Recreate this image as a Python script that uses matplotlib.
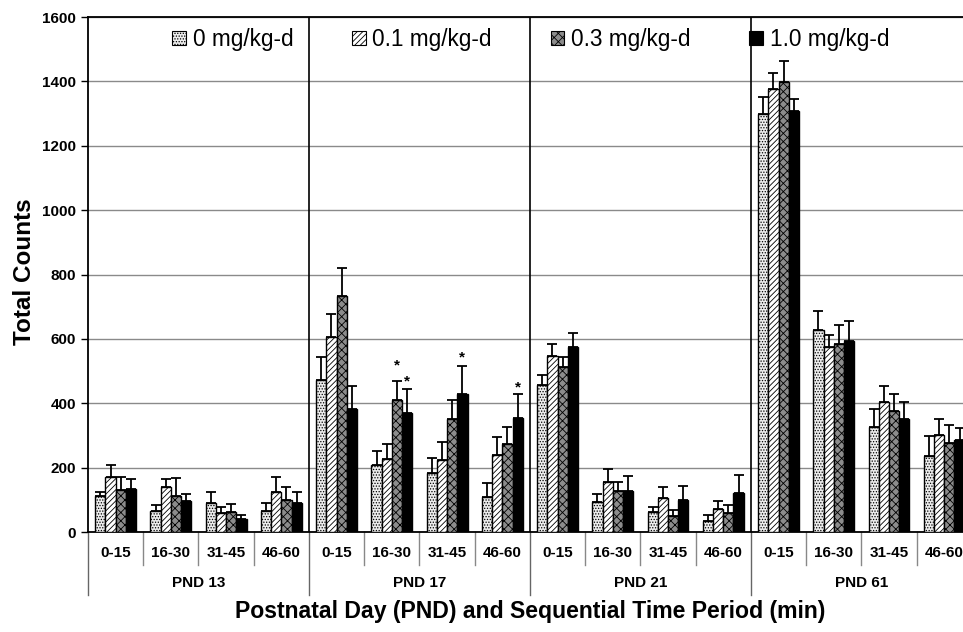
import numpy as np
import matplotlib
matplotlib.use('Agg')
import matplotlib.pyplot as plt
from matplotlib.patches import Patch

plt.rcParams['font.family'] = ['Liberation Sans', 'DejaVu Sans']
plt.rcParams['hatch.linewidth'] = 0.6

# data
days = ['PND 13', 'PND 17', 'PND 21', 'PND 61']
periods = ['0-15', '16-30', '31-45', '46-60']
doses = ['0 mg/kg-d', '0.1 mg/kg-d', '0.3 mg/kg-d', '1.0 mg/kg-d']

mean_0 = [111, 67, 89, 67, 472, 208, 184, 109, 456, 94, 64, 36, 1298, 628, 326, 235]
sem_0 = [14, 17, 36, 24, 71, 45, 47, 45, 32, 26, 14, 16, 53, 59, 55, 63]
mean_01 = [171, 140, 61, 125, 605, 226, 223, 240, 548, 157, 107, 71, 1375, 574, 403, 303]
sem_01 = [37, 25, 18, 47, 74, 47, 58, 56, 35, 40, 33, 25, 50, 37, 50, 47]
mean_03 = [130, 112, 63, 99, 733, 410, 352, 274, 512, 129, 50, 58, 1399, 583, 375, 276]
sem_03 = [41, 55, 23, 42, 86, 59, 60, 54, 31, 28, 18, 25, 65, 61, 55, 56]
mean_10 = [133, 96, 41, 90, 384, 371, 429, 356, 575, 128, 101, 123, 1308, 593, 350, 286]
sem_10 = [31, 24, 12, 34, 70, 75, 87, 72, 43, 47, 42, 53, 39, 64, 55, 38]

# significant bars: (category index, dose index)
stars = [(5, 2), (5, 3), (6, 3), (7, 3)]
star_pad = [6, 0, 1, 0]

means = [mean_0, mean_01, mean_03, mean_10]
sems = [sem_0, sem_01, sem_03, sem_10]
faces = ['#ececec', 'white', '#8c8c8c', 'black']
hatches = ['......', '//////', 'xxxx', None]

fig = plt.figure(figsize=(9.63, 6.32), dpi=100)
ax = fig.add_axes([0.0914, 0.158, 1 - 0.0914, 0.815])

n = len(days) * len(periods)
x = np.arange(n)
w = 0.185
for i in range(4):
    xi = x + (i - 1.5) * w
    ax.bar(xi, means[i], w, color=faces[i], edgecolor='black', hatch=hatches[i],
           linewidth=1.0, zorder=3)
    ax.errorbar(xi, means[i], yerr=[np.zeros(n), sems[i]], fmt='none',
                ecolor='black', elinewidth=1.3, capsize=3.5, capthick=1.3, zorder=4)

for (c, d), pad in zip(stars, star_pad):
    xs = c + (d - 1.5) * w
    ys = means[d][c] + sems[d][c]
    ax.annotate('*', (xs, ys), xytext=(0, pad), textcoords='offset points',
                ha='center', va='bottom', fontsize=11, fontweight='bold')

ax.set_ylim(0, 1600)
ax.set_xlim(-0.5, 15.34)
ax.set_yticks(np.arange(0, 1601, 200))
ax.yaxis.grid(True, color='#8a8a8a', linewidth=1.0, zorder=0)
ax.set_axisbelow(True)
ax.tick_params(axis='y', labelsize=11, length=5, width=1, direction='out')
for lab in ax.get_yticklabels():
    lab.set_fontweight('bold')
ax.set_xticks([])
ax.spines['right'].set_visible(False)
for s in ['left', 'top', 'bottom']:
    ax.spines[s].set_linewidth(1.3)

# group separators
trans = ax.get_xaxis_transform()
for k in range(1, len(days)):
    ax.axvline(4 * k - 0.5, color='black', linewidth=1.2, zorder=2)
for k in range(n):
    b = k - 0.5
    if k % 4 == 0:
        ax.plot([b, b], [0, -0.122], color='#666666', linewidth=1.0,
                transform=trans, clip_on=False)
    else:
        ax.plot([b, b], [0, -0.064], color='#888888', linewidth=1.0,
                transform=trans, clip_on=False)
    ax.text(k, -0.041, periods[k % 4], transform=trans, ha='center',
            va='center', fontsize=11, fontweight='bold')
for j, day in enumerate(days):
    ax.text(4 * j + 1.5, -0.099, day, transform=trans, ha='center',
            va='center', fontsize=11, fontweight='bold')

fig.text(0.025, 0.57, 'Total Counts', rotation=90, ha='center', va='center',
         fontsize=17.5, fontweight='bold')
fig.text(0.551, 0.032, 'Postnatal Day (PND) and Sequential Time Period (min)',
         ha='center', va='center', fontsize=16.6, fontweight='bold')

handles = [Patch(facecolor=faces[i], edgecolor='black', hatch=hatches[i],
                 linewidth=0.8) for i in range(4)]
ax.legend(handles, doses, loc='center', bbox_to_anchor=(0.506, 0.957), ncol=4,
          frameon=False, fontsize=16.3, handlelength=0.6, handleheight=0.6,
          handletextpad=0.3, columnspacing=2.6)

fig.savefig('out.png', dpi=100)
